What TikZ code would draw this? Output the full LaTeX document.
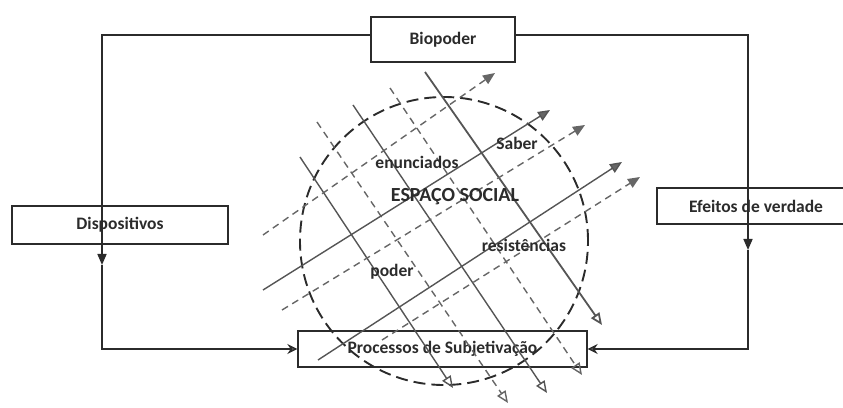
\documentclass[tikz,border=0pt]{standalone}
\usepackage{fontspec}
\setmainfont{Carlito}
\usetikzlibrary{arrows.meta}
\definecolor{ink}{HTML}{2B2B2B}
\definecolor{gridsolid}{HTML}{555555}
\definecolor{griddash}{HTML}{666666}

\begin{document}
\begin{tikzpicture}[x=1pt,y=1pt,
  box/.style={draw=ink, line width=1.3pt, inner sep=0pt, text=ink,
    font=\fontsize{17.5}{20}\selectfont\bfseries},
  label/.style={text=ink, inner sep=0pt, font=\fontsize{17.5}{20}\selectfont\bfseries},
  conn/.style={draw=ink, line width=1.6pt},
  midtip/.style={-{Triangle[length=11pt,width=9pt]}},
  endtip/.style={-{Stealth[open,length=10pt,width=10pt]}},
  fieldline/.style={draw=gridsolid, line width=1.4pt},
  fielddash/.style={draw=griddash, line width=1.4pt, dash pattern=on 7pt off 5pt},
  uptip/.style={-{Triangle[length=12pt,width=10pt,fill=griddash]}},
  downtip/.style={-{Triangle[open,length=12pt,width=10pt]}},
  social/.style={draw=ink, line width=1.9pt, dash pattern=on 12pt off 6pt}]

\useasboundingbox (0,0) rectangle (843,407);
\clip (0,0) rectangle (843,407);

% boxes
\node[box, minimum width=144pt, minimum height=45pt] (bio) at (443,367.5) {Biopoder};
\node[box, minimum width=216pt, minimum height=38pt] (disp) at (120,182) {Dispositivos};
\node[box, minimum width=198pt, minimum height=36pt] (efe) at (756,201) {Efeitos de verdade};
\node[box, minimum width=289pt, minimum height=36pt] (proc) at (442.5,58) {Processos de Subjetivação};

% the social space
\draw[social] (444,166) circle (144);

% field lines running down to the right
\coordinate (d1s) at (300,250); \coordinate (d1e) at (453,19);
\coordinate (d2s) at (317,285); \coordinate (d2e) at (508,4);
\coordinate (d3s) at (353,302); \coordinate (d3e) at (547,14);
\coordinate (d4s) at (390,319); \coordinate (d4e) at (582,32);
\coordinate (d5s) at (425,335); \coordinate (d5e) at (602,82);
\draw[fieldline, downtip] (d1s) -- (d1e);
\draw[fielddash, downtip] (d2s) -- (d2e);
\draw[fieldline, downtip] (d3s) -- (d3e);
\draw[fielddash, downtip] (d4s) -- (d4e);
\draw[fieldline, line width=1.8pt, downtip] (d5s) -- (d5e);

% field lines running up to the right
\coordinate (u1s) at (263,172); \coordinate (u1e) at (495,334);
\coordinate (u2s) at (263,117); \coordinate (u2e) at (550,297);
\coordinate (u3s) at (282,97);  \coordinate (u3e) at (585,282);
\coordinate (u4s) at (318,47);  \coordinate (u4e) at (622,245);
\coordinate (u5s) at (382,67);  \coordinate (u5e) at (640,230);
\draw[fielddash, uptip] (u1s) -- (u1e);
\draw[fieldline, uptip] (u2s) -- (u2e);
\draw[fielddash, uptip] (u3s) -- (u3e);
\draw[fieldline, uptip] (u4s) -- (u4e);
\draw[fielddash, uptip] (u5s) -- (u5e);

% labels inside the social space
\node[label] (enun) at (417,245) {enunciados};
\node[label] (saber) at (517,264) {Saber};
\node[label, font=\fontsize{20}{22}\selectfont\bfseries] (esp) at (455,210) {ESPAÇO SOCIAL};
\node[label] (poder) at (392,135) {poder};
\node[label] (resist) at (524,162) {resistências};

% connectors
\coordinate (lt) at (102,372);
\coordinate (lmid) at (102,142);
\coordinate (rt) at (748,372);
\coordinate (rmid) at (748,157);
\draw[conn, midtip] ([yshift=4.5pt]bio.west) -- (lt) -- (lmid);
\draw[conn, endtip] (lmid) |- (proc.west);
\draw[conn, midtip] ([yshift=4.5pt]bio.east) -- (rt) -- (rmid);
\draw[conn, endtip] (rmid) |- (proc.east);
\end{tikzpicture}
\end{document}
